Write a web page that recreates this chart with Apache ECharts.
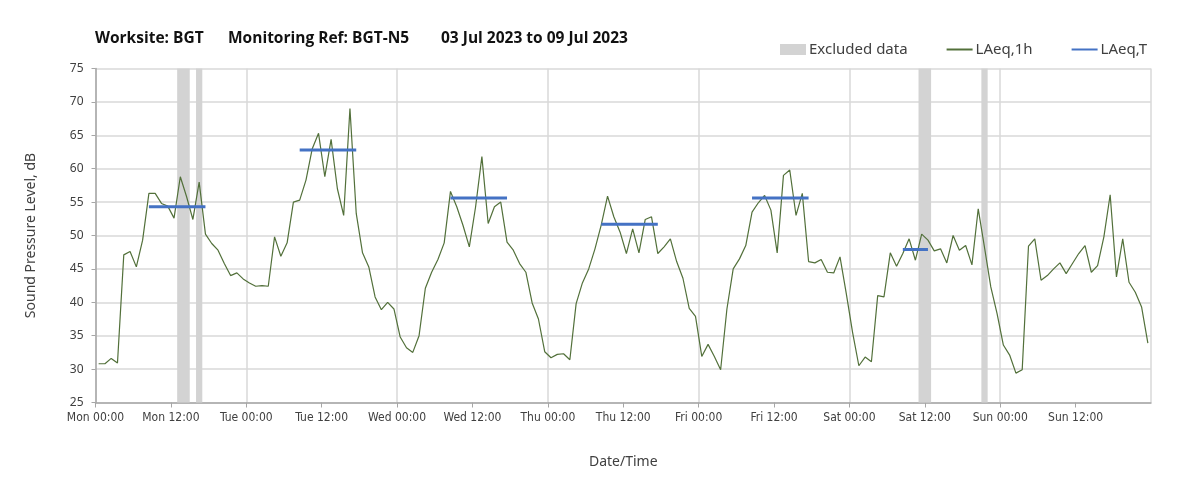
<!DOCTYPE html>
<html>
<head>
<meta charset="utf-8">
<script src="https://cdn.jsdelivr.net/npm/echarts@6/dist/echarts.min.js"></script>
<style>
  html, body { margin: 0; padding: 0; background: #fff; }
  #main { width: 1203px; height: 495px; }
</style>
</head>
<body>
<div id="main"></div>
<script>
// hourly LAeq,1h readings, Mon 00:00 .. Sun 23:00
const laeq1h = [
  30.8, 30.8, 31.6, 30.9, 47.1, 47.6, 45.3, 49.3, 56.3, 56.3,
  54.8, 54.4, 52.6, 58.8, 55.8, 52.4, 58.0, 50.2, 48.8, 47.8,
  45.8, 44.0, 44.4, 43.5, 42.9, 42.4, 42.5, 42.4, 49.8, 46.9,
  48.9, 55.0, 55.3, 58.3, 63.0, 65.3, 58.8, 64.4, 57.0, 53.0,
  69.0, 53.3, 47.4, 45.3, 40.8, 38.9, 40.0, 39.0, 34.8, 33.2,
  32.5, 35.0, 42.1, 44.5, 46.4, 48.9, 56.6, 54.3, 51.5, 48.3,
  54.3, 61.8, 51.8, 54.3, 55.0, 49.0, 47.8, 45.8, 44.5, 39.9,
  37.5, 32.6, 31.7, 32.2, 32.3, 31.4, 39.8, 42.9, 45.0, 48.0,
  51.6, 55.9, 52.8, 50.5, 47.3, 51.0, 47.4, 52.4, 52.8, 47.3,
  48.3, 49.5, 46.1, 43.6, 39.1, 37.9, 31.9, 33.7, 31.9, 29.9,
  39.0, 45.0, 46.5, 48.5, 53.5, 54.9, 56.0, 53.8, 47.4, 59.0,
  59.8, 53.0, 56.3, 46.1, 45.9, 46.4, 44.5, 44.4, 46.8, 41.3,
  35.5, 30.5, 31.8, 31.1, 41.0, 40.8, 47.4, 45.4, 47.3, 49.5,
  46.3, 50.2, 49.3, 47.7, 48.0, 45.9, 50.0, 47.8, 48.5, 45.6,
  54.0, 48.2, 42.3, 38.3, 33.6, 32.1, 29.4, 29.9, 48.4, 49.5,
  43.3, 44.0, 45.0, 45.9, 44.3, 45.8, 47.3, 48.5, 44.5, 45.5,
  49.8, 56.1, 43.8, 49.5, 43.0, 41.5, 39.3, 33.9
];

// LAeq,T periods (hour index of first and last reading) and levels
const periodStart = [8, 32, 56, 80, 104, 128];
const periodEnd = [17, 41, 65, 89, 113, 132];
const periodLevel = [54.3, 62.8, 55.6, 51.7, 55.6, 47.9];

// excluded data windows, hours from Mon 00:00
const excludedStart = [13, 16, 131, 141];
const excludedEnd = [15, 17, 133, 142];

const days = ['Mon', 'Tue', 'Wed', 'Thu', 'Fri', 'Sat', 'Sun'];

const myChart = echarts.init(document.getElementById('main'));

// readings are plotted at the middle of their hour
const lineData = laeq1h.map((v, i) => [i + 0.5, v]);

const periodData = [];
periodStart.forEach((s, i) => {
  periodData.push([s + 0.5, periodLevel[i]]);
  periodData.push([periodEnd[i] + 0.5, periodLevel[i]]);
  periodData.push([periodEnd[i] + 0.5, '-']);
});

const bands = excludedStart.map((s, i) => [{ xAxis: s }, { xAxis: excludedEnd[i] }]);

const font = 'Noto Sans';
const textColor = '#404040';

const options = {
  animation: false,
  title: [
    { text: 'Worksite: BGT', left: 95, top: 31 },
    { text: 'Monitoring Ref: BGT-N5', left: 228, top: 31 },
    { text: '03 Jul 2023 to 09 Jul 2023', left: 441, top: 31 }
  ].map(t => ({
    ...t,
    padding: 0,
    textStyle: { fontFamily: 'Open Sans', fontWeight: 'bold', fontSize: 15.5, color: '#111' }
  })),
  legend: {
    left: 775,
    top: 37,
    itemWidth: 26,
    itemHeight: 11,
    itemGap: 38,
    textStyle: { fontFamily: font, fontSize: 15, color: textColor, padding: [0, 0, 0, -2] },
    data: [
      { name: 'Excluded data', icon: 'rect', itemStyle: { color: '#d3d3d3' } },
      { name: 'LAeq,1h', itemStyle: { opacity: 0 } },
      { name: 'LAeq,T', itemStyle: { opacity: 0 } }
    ]
  },
  grid: { left: 95.5, right: 52, top: 68.5, bottom: 92.5 },
  xAxis: [{
    type: 'value',
    min: 0,
    max: 168,
    interval: 12,
    name: 'Date/Time',
    nameLocation: 'middle',
    nameGap: 53,
    nameTextStyle: { fontFamily: font, fontSize: 14, color: textColor },
    axisLine: { lineStyle: { color: '#a6a6a6', width: 1.5 } },
    axisTick: { show: true, length: 5, lineStyle: { color: '#a6a6a6' } },
    axisLabel: {
      fontFamily: 'DejaVu Sans Condensed, Noto Sans',
      fontSize: 12,
      color: textColor,
      margin: 9,
      showMaxLabel: false,
      formatter: v => days[Math.floor(v / 24)] + (v % 24 === 0 ? ' 00:00' : ' 12:00')
    },
    splitLine: { show: false }
  }, {
    // daily vertical gridlines
    type: 'value',
    min: 0,
    max: 168,
    interval: 24,
    axisLine: { show: false },
    axisTick: { show: false },
    axisLabel: { show: false },
    splitLine: { show: true, lineStyle: { color: '#d9d9d9', width: 1.5 } }
  }],
  yAxis: {
    type: 'value',
    min: 25,
    max: 75,
    interval: 5,
    name: 'Sound Pressure Level, dB',
    nameLocation: 'middle',
    nameGap: 57,
    nameTextStyle: { fontFamily: font, fontSize: 14, color: textColor },
    axisLine: { show: true, lineStyle: { color: '#a6a6a6', width: 1.5 } },
    axisTick: { show: true, length: 4, lineStyle: { color: '#a6a6a6' } },
    axisLabel: { fontFamily: font, fontSize: 12, color: textColor, margin: 12 },
    splitLine: { lineStyle: { color: '#d9d9d9', width: 1.5 } }
  },
  series: [
    {
      name: 'Excluded data',
      type: 'line',
      data: [],
      itemStyle: { color: '#d3d3d3' },
      markArea: {
        silent: true,
        itemStyle: { color: '#d3d3d3' },
        data: bands
      }
    },
    {
      name: 'LAeq,1h',
      type: 'line',
      data: lineData,
      symbol: 'none',
      color: '#52703a',
      lineStyle: { color: '#52703a', width: 1.2 },
      z: 3
    },
    {
      name: 'LAeq,T',
      type: 'line',
      data: periodData,
      symbol: 'none',
      color: '#4472c4',
      lineStyle: { color: '#4472c4', width: 3 },
      z: 4
    }
  ]
};

myChart.setOption(options);
</script>
</body>
</html>
